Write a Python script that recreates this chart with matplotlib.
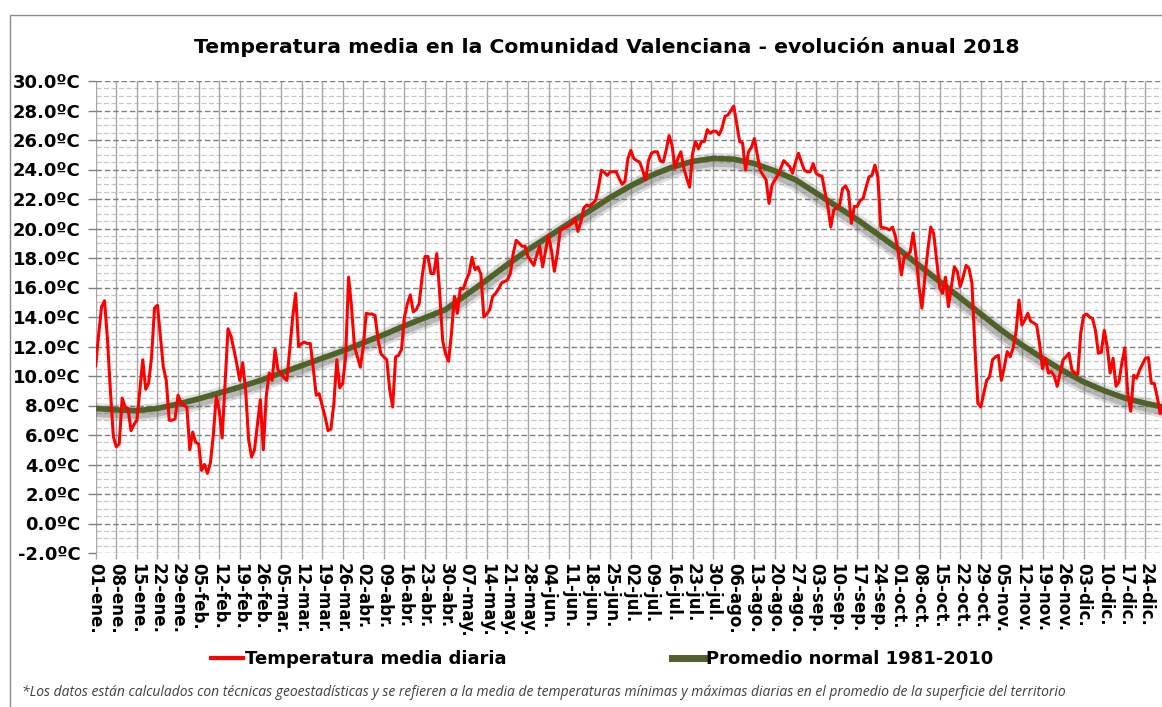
import numpy as np
import matplotlib
matplotlib.use("Agg")
import matplotlib.pyplot as plt
import matplotlib.patheffects as pe
from matplotlib.lines import Line2D
from matplotlib.patches import Rectangle

# daily mean temperature 2018
temp_daily = [
    10.7, 12.8, 14.7, 15.1, 12.5, 9.0, 5.9, 5.2, 5.4, 8.5,
    7.9, 7.8, 6.3, 6.7, 7.0, 9.0, 11.1, 9.1, 9.5, 11.3,
    14.6, 14.8, 12.7, 10.6, 9.7, 7.0, 7.0, 7.1, 8.7, 8.2,
    8.0, 7.9, 5.0, 6.2, 5.5, 5.4, 3.6, 4.0, 3.4, 4.1,
    6.0, 8.6, 7.7, 5.8, 9.5, 13.2, 12.7, 11.8, 10.8, 9.7,
    10.9, 9.0, 5.7, 4.5, 5.0, 6.7, 8.4, 5.0, 8.6, 10.2,
    9.7, 11.8, 10.4, 10.2, 9.9, 9.7, 11.8, 14.0, 15.6, 12.0,
    12.2, 12.3, 12.2, 12.2, 10.5, 8.7, 8.8, 8.0, 7.25, 6.3,
    6.4, 8.15, 11.1, 9.2, 9.5, 11.3, 16.7, 14.7, 12.0, 11.3,
    10.6, 12.0, 14.25, 14.2, 14.2, 14.1, 12.5, 11.5, 11.3, 11.1,
    9.05, 7.9, 11.3, 11.4, 11.8, 14.0, 14.9, 15.5, 14.35, 14.5,
    14.9, 16.7, 18.1, 18.1, 16.95, 16.95, 18.3, 15.6, 12.4, 11.5,
    11.0, 12.9, 15.4, 14.25, 15.95, 15.9, 16.5, 16.95, 18.05, 17.2,
    17.4, 16.9, 14.0, 14.2, 14.5, 15.4, 15.6, 15.9, 16.3, 16.4,
    16.5, 16.95, 18.3, 19.2, 19.0, 18.8, 18.8, 18.1, 17.8, 17.5,
    18.2, 18.8, 17.4, 18.5, 19.55, 18.5, 17.1, 18.3, 19.9, 20.0,
    20.1, 20.2, 20.35, 20.7, 19.8, 20.45, 21.4, 21.6, 21.5, 21.7,
    21.9, 22.8, 23.95, 23.8, 23.6, 23.85, 23.85, 23.85, 23.4, 23.0,
    23.2, 24.75, 25.3, 24.75, 24.6, 24.5, 23.95, 23.3, 24.6, 25.1,
    25.2, 25.2, 24.6, 24.5, 25.3, 26.3, 25.65, 24.1, 24.75, 25.2,
    24.1, 23.4, 22.8, 25.1, 25.9, 25.4, 25.9, 25.9, 26.7, 26.45,
    26.6, 26.6, 26.35, 26.8, 27.6, 27.7, 28.0, 28.3, 27.1, 25.9,
    25.8, 23.95, 25.2, 25.5, 26.1, 25.0, 23.95, 23.6, 23.3, 21.7,
    22.95, 23.3, 23.6, 24.1, 24.6, 24.4, 24.2, 23.75, 24.5, 25.1,
    24.5, 23.95, 23.85, 23.85, 24.4, 23.75, 23.6, 23.55, 22.5, 21.5,
    20.1, 21.25, 21.4, 21.6, 22.7, 22.9, 22.5, 20.35, 21.5, 21.5,
    21.9, 22.05, 22.8, 23.5, 23.6, 24.3, 23.5, 20.1, 20.05, 20.0,
    19.9, 20.1, 19.45, 18.3, 16.85, 18.1, 18.2, 18.4, 19.7, 18.1,
    16.05, 14.6, 16.7, 18.55, 20.1, 19.65, 17.85, 16.05, 15.6, 16.7,
    14.7, 16.05, 17.4, 17.1, 16.05, 16.7, 17.5, 17.3, 16.3, 12.0,
    8.15, 7.9, 8.8, 9.7, 9.95, 11.1, 11.3, 11.4, 9.7, 10.6,
    11.65, 11.3, 11.9, 13.0, 15.15, 13.45, 13.8, 14.25, 13.7, 13.6,
    13.45, 12.2, 10.5, 11.2, 10.2, 10.3, 10.0, 9.3, 10.2, 11.1,
    11.3, 11.55, 10.4, 10.2, 10.1, 12.9, 14.1, 14.2, 14.0, 13.9,
    13.1, 11.55, 11.6, 13.1, 12.0, 10.2, 11.2, 9.3, 9.6, 10.9,
    11.9, 8.8, 7.6, 10.05, 9.85, 10.4, 10.8, 11.2, 11.25, 9.5,
    9.5, 8.6, 7.45, 7.9, 7.3,
]

# normal 1981-2010, one value per week (day 0, 7, ..., 364)
normal_days = list(range(0, 365, 7))
normal_weekly = [
    7.8, 7.7, 7.65, 7.8, 8.1, 8.45, 8.85, 9.25, 9.7, 10.2,
    10.7, 11.2, 11.7, 12.25, 12.8, 13.4, 13.95, 14.5, 15.5, 16.5,
    17.55, 18.55, 19.45, 20.35, 21.2, 22.1, 22.9, 23.6, 24.15, 24.55,
    24.75, 24.7, 24.4, 23.9, 23.3, 22.4, 21.5, 20.6, 19.6, 18.6,
    17.5, 16.4, 15.3, 14.2, 13.1, 12.1, 11.2, 10.35, 9.6, 9.0,
    8.5, 8.15, 7.85,
]

months = ['ene', 'feb', 'mar', 'abr', 'may', 'jun', 'jul', 'ago', 'sep', 'oct', 'nov', 'dic']
dates = np.arange('2018-01-01', '2019-01-01', 7, dtype='datetime64[D]')
tick_labels = []
for d in dates:
    s = str(d)
    tick_labels.append('{}-{}.'.format(s[8:10], months[int(s[5:7]) - 1]))

W, H = 1162, 707
fig = plt.figure(figsize=(W / 100, H / 100), dpi=100)
fig.patch.set_facecolor('white')

# chart border (cut on the right / bottom like the original)
fig.add_artist(Rectangle((10 / W, -0.01), 1.2, 1 - 15 / H + 0.01, transform=fig.transFigure,
                         fill=False, edgecolor='#8c8c8c', linewidth=1.0))

x0, x1 = 95.7, 1166.0
ytop, ybot = 81.0, 553.0
ax = fig.add_axes([x0 / W, 1 - ybot / H, (x1 - x0) / W, (ybot - ytop) / H])
ax.set_facecolor('none')

x = np.arange(len(temp_daily))

# grid
for v in np.arange(-2, 30.01, 0.5):
    if abs(v / 2 - round(v / 2)) < 1e-6:
        ax.axhline(v, color='#7f7f7f', lw=1.0, ls=(0, (4, 2)), zorder=1)
    else:
        ax.axhline(v, color='#c8c8c8', lw=0.9, ls=(0, (4, 2)), zorder=0.5)
for d in range(0, 365, 7):
    ax.axvline(d, color='#a6a6a6', lw=1.0, zorder=0.8)

# normal curve with soft shadow
ax.plot(normal_days, normal_weekly, color='#4f6228', lw=4.0, solid_capstyle='round', zorder=3,
        path_effects=[pe.SimpleLineShadow(offset=(0, -2), shadow_color='#606060', alpha=0.2, linewidth=12),
                      pe.SimpleLineShadow(offset=(0, -2), shadow_color='#606060', alpha=0.3, linewidth=8),
                      pe.Normal()])
ax.plot(x, temp_daily, color='#ff0000', lw=2.2, zorder=4)

ax.set_xlim(0, 364)
ax.set_ylim(-2, 30)
ax.set_yticks(np.arange(-2, 31, 2))
ax.set_yticklabels(['{:.1f}ºC'.format(v) for v in np.arange(-2, 31, 2)],
                   fontsize=13, fontweight='bold')
ax.set_xticks(np.arange(0, 365, 7))
ax.set_xticklabels(tick_labels, rotation=-90, fontsize=12, fontweight='bold', va='top', ha='center')
ax.tick_params(axis='y', length=6, width=1, color='#7f7f7f', pad=5)
ax.tick_params(axis='x', length=4, width=1, color='#a6a6a6', pad=3)
for s in ax.spines.values():
    s.set_visible(False)

fig.text(607 / W, 1 - 47 / H, 'Temperatura media en la Comunidad Valenciana - evolución anual 2018',
         ha='center', va='center', fontsize=14.7, fontweight='bold')

handles = [Line2D([], [], color='#ff0000', lw=3),
           Line2D([], [], color='#4f6228', lw=5)]
fig.legend(handles, ['Temperatura media diaria', 'Promedio normal 1981-2010'],
           loc='center', bbox_to_anchor=(602 / W, 1 - 659 / H), ncol=2, frameon=False,
           prop={'size': 13, 'weight': 'bold'}, handlelength=1.75, handletextpad=0.1,
           columnspacing=9.2)

fig.text(22 / W, 1 - 693 / H,
         '*Los datos están calculados con técnicas geoestadísticas y se refieren a la media de temperaturas '
         'mínimas y máximas diarias en el promedio de la superficie del territorio',
         ha='left', va='center', fontsize=10, style='italic', color='#404040', family='Open Sans')

fig.savefig('out.png', dpi=100)
